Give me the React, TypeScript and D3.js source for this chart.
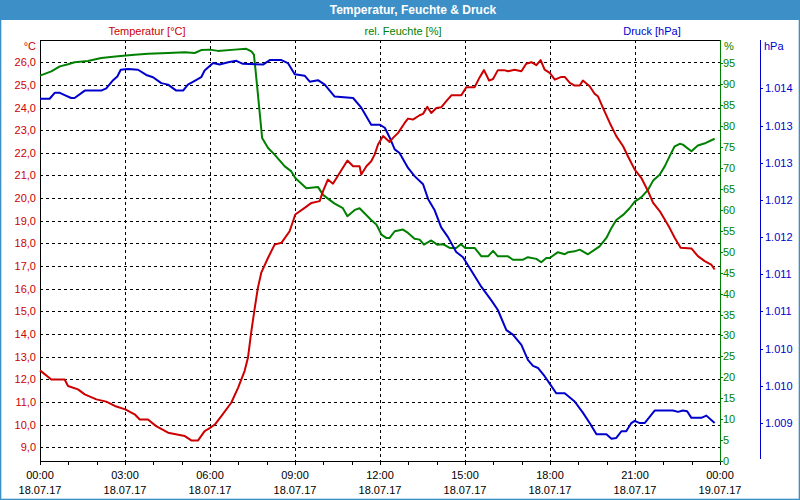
import * as d3 from "d3";

// hours since 18.07.17 00:00 and readings
const tempSeries: [number, number][] = [
  [0, 12.4], [0.4, 12.0], [0.87, 12.0], [0.99, 11.71], [1.34, 11.56], [1.58, 11.34], [1.99, 11.12],
  [2.34, 11.02], [2.64, 10.83], [3.01, 10.68], [3.34, 10.46], [3.52, 10.23], [3.81, 10.23], [4.1, 9.94],
  [4.52, 9.65], [5.11, 9.5], [5.34, 9.31], [5.58, 9.31], [5.81, 9.72], [5.99, 9.85], [6.17, 10.01],
  [6.4, 10.38], [6.75, 10.97], [6.99, 11.63], [7.22, 12.37], [7.34, 12.96], [7.46, 14.13], [7.58, 15.16],
  [7.69, 16.04], [7.81, 16.71], [8.05, 17.37], [8.28, 17.95], [8.52, 18.03], [8.81, 18.54], [9.01, 19.28],
  [9.34, 19.57], [9.58, 19.79], [9.87, 19.87], [9.99, 20.31], [10.16, 20.82], [10.34, 20.64], [10.58, 21.12],
  [10.85, 21.66], [11.05, 21.41], [11.28, 21.41], [11.34, 21.04], [11.52, 21.41], [11.69, 21.63],
  [11.81, 21.92], [11.93, 22.37], [12.11, 22.74], [12.34, 22.48], [12.46, 22.66], [12.64, 22.88],
  [12.87, 23.32], [12.99, 23.51], [13.16, 23.47], [13.4, 23.66], [13.52, 23.72], [13.67, 24.03],
  [13.81, 23.76], [13.99, 23.98], [14.16, 24.01], [14.34, 24.28], [14.52, 24.54], [14.87, 24.54],
  [15.05, 24.9], [15.34, 24.9], [15.52, 25.34], [15.67, 25.65], [15.85, 25.19], [15.99, 25.26],
  [16.16, 25.65], [16.38, 25.65], [16.52, 25.6], [16.75, 25.67], [16.99, 25.6], [17.16, 25.93],
  [17.34, 26.0], [17.52, 25.87], [17.67, 26.09], [17.81, 25.67], [17.99, 25.53], [18.17, 25.23],
  [18.4, 25.35], [18.52, 25.35], [18.7, 25.09], [18.87, 24.97], [19.05, 24.97], [19.16, 25.19],
  [19.4, 24.94], [19.58, 24.6], [19.69, 24.5], [19.87, 23.98], [20.11, 23.32], [20.34, 22.74],
  [20.58, 22.29], [20.75, 21.85], [20.99, 21.26], [21.22, 20.9], [21.46, 20.31], [21.64, 19.79],
  [21.87, 19.43], [22.05, 19.06], [22.22, 18.69], [22.4, 18.25], [22.61, 17.81], [22.99, 17.78],
  [23.22, 17.44], [23.46, 17.22], [23.69, 17.07], [23.81, 16.85],
];

const humSeries: [number, number][] = [
  [0, 92.1], [0.4, 93.1], [0.7, 94.3], [0.99, 94.8], [1.22, 95.3], [1.69, 95.6], [2.16, 96.3],
  [2.75, 96.7], [3.34, 97.1], [3.81, 97.3], [4.52, 97.5], [5.11, 97.7], [5.46, 97.5], [5.69, 98.2],
  [5.99, 98.3], [6.28, 98.0], [6.87, 98.3], [7.28, 98.5], [7.46, 97.9], [7.55, 97.1], [7.6, 93.9],
  [7.67, 89.1], [7.75, 83.5], [7.84, 77.2], [8.05, 74.8], [8.28, 73.2], [8.64, 70.4], [8.87, 69.2],
  [9.01, 67.6], [9.4, 65.2], [9.81, 65.5], [9.99, 63.6], [10.22, 62.4], [10.4, 61.5], [10.69, 60.4],
  [10.85, 58.5], [11.11, 60.0], [11.28, 60.4], [11.69, 57.6], [11.87, 56.5], [11.95, 55.5],
  [12.05, 54.1], [12.22, 53.3], [12.34, 53.3], [12.52, 54.9], [12.81, 55.3], [12.99, 54.5],
  [13.22, 53.1], [13.4, 52.9], [13.55, 51.7], [13.81, 52.7], [14.02, 51.7], [14.22, 51.8],
  [14.46, 50.9], [14.69, 50.9], [14.85, 51.8], [15.01, 50.9], [15.34, 50.9], [15.58, 48.9],
  [15.81, 48.9], [15.99, 50.2], [16.16, 48.9], [16.52, 48.9], [16.69, 48.1], [17.05, 48.1],
  [17.22, 48.7], [17.52, 48.3], [17.69, 47.5], [17.87, 48.5], [17.99, 48.5], [18.28, 49.9],
  [18.52, 49.4], [18.64, 49.9], [18.87, 50.1], [19.05, 50.5], [19.34, 49.4], [19.58, 50.5],
  [19.75, 51.3], [19.99, 53.3], [20.17, 55.7], [20.34, 57.6], [20.58, 58.8], [20.81, 60.4],
  [20.99, 62.0], [21.22, 63.0], [21.46, 64.8], [21.64, 67.0], [21.87, 68.4], [22.05, 70.4],
  [22.22, 72.8], [22.4, 75.2], [22.58, 75.8], [22.69, 75.6], [22.99, 74.0], [23.22, 75.4],
  [23.5, 76.0], [23.81, 77.0],
];

const pressSeries: [number, number][] = [
  [0, 1013.61], [0.34, 1013.61], [0.52, 1013.69], [0.7, 1013.69], [0.87, 1013.66], [1.1, 1013.62],
  [1.22, 1013.62], [1.58, 1013.72], [2.16, 1013.72], [2.34, 1013.75], [2.58, 1013.86], [2.73, 1013.91],
  [2.85, 1014.0], [3.11, 1014.01], [3.46, 1014.0], [3.75, 1013.93], [3.99, 1013.9], [4.28, 1013.82],
  [4.52, 1013.8], [4.81, 1013.72], [5.05, 1013.72], [5.22, 1013.8], [5.46, 1013.85], [5.69, 1013.9],
  [5.81, 1013.99], [5.99, 1014.05], [6.11, 1014.09], [6.34, 1014.07], [6.64, 1014.1], [6.93, 1014.12],
  [7.16, 1014.08], [7.87, 1014.07], [8.11, 1014.13], [8.52, 1014.13], [8.75, 1014.09], [8.99, 1013.94],
  [9.34, 1013.92], [9.52, 1013.84], [9.81, 1013.86], [10.05, 1013.8], [10.4, 1013.64], [11.05, 1013.62],
  [11.34, 1013.49], [11.69, 1013.26], [12.0, 1013.26], [12.17, 1013.22], [12.34, 1013.09],
  [12.52, 1012.93], [12.69, 1012.88], [12.99, 1012.68], [13.22, 1012.57], [13.52, 1012.46],
  [13.7, 1012.26], [13.93, 1012.11], [14.16, 1011.88], [14.4, 1011.75], [14.69, 1011.55],
  [14.93, 1011.48], [15.22, 1011.3], [15.58, 1011.08], [15.93, 1010.9], [16.16, 1010.77],
  [16.46, 1010.5], [16.69, 1010.44], [16.99, 1010.3], [17.22, 1010.1], [17.4, 1010.02],
  [17.58, 1009.99], [17.81, 1009.88], [17.99, 1009.78], [18.22, 1009.65], [18.52, 1009.65],
  [18.87, 1009.54], [19.16, 1009.39], [19.4, 1009.25], [19.64, 1009.1], [19.99, 1009.1],
  [20.17, 1009.04], [20.34, 1009.05], [20.52, 1009.14], [20.69, 1009.14], [20.87, 1009.25],
  [20.99, 1009.28], [21.17, 1009.25], [21.34, 1009.25], [21.7, 1009.42], [22.34, 1009.42],
  [22.52, 1009.4], [22.69, 1009.42], [22.84, 1009.41], [22.99, 1009.32], [23.34, 1009.32],
  [23.52, 1009.35], [23.81, 1009.25],
];

const tempTicks = [9, 10, 11, 12, 13, 14, 15, 16, 17, 18, 19, 20, 21, 22, 23, 24, 25, 26];
const humTicks = [0, 5, 10, 15, 20, 25, 30, 35, 40, 45, 50, 55, 60, 65, 70, 75, 80, 85, 90, 95];
const pressTicks = [1009.25, 1009.75, 1010.25, 1010.75, 1011.25, 1011.75, 1012.25, 1012.75, 1013.25, 1013.75];
const hourTicks = [0, 3, 6, 9, 12, 15, 18, 21, 24];
const timeLabels = ["00:00", "03:00", "06:00", "09:00", "12:00", "15:00", "18:00", "21:00", "00:00"];
const dateLabels = ["18.07.17", "18.07.17", "18.07.17", "18.07.17", "18.07.17", "18.07.17", "18.07.17", "18.07.17", "19.07.17"];

const RED = "#cc0000";
const GREEN = "#008000";
const BLUE = "#0000cc";
const FRAME = "#3c8fc7";
const FONT = "'Liberation Sans', Arial, sans-serif";

export default function App() {
  const W = 800, H = 500;
  const left = 40, right = 720, top = 40, bottom = 461;

  const x = d3.scaleLinear().domain([0, 24]).range([left, right]);
  const yT = d3.scaleLinear().domain([8.4, 26.98]).range([bottom, top]);
  const yH = d3.scaleLinear().domain([0, 100.6]).range([bottom, top]);
  const yP = d3.scaleLinear().domain([1008.74, 1014.4]).range([bottom, top]);

  const lineT = d3.line<[number, number]>().x(d => x(d[0])).y(d => yT(d[1]));
  const lineH = d3.line<[number, number]>().x(d => x(d[0])).y(d => yH(d[1]));
  const lineP = d3.line<[number, number]>().x(d => x(d[0])).y(d => yP(d[1]));

  const fmtT = (v: number) => v.toFixed(1).replace(".", ",");
  const fmtP = (v: number) => {
    const r = Math.round(v);
    return `${Math.floor(r / 1000)}.${String(r % 1000).padStart(3, "0")}`;
  };
  const minorHours = d3.range(0, 25);

  return (
    <svg width={W} height={H} style={{ position: "absolute", left: 0, top: 0 }} fontFamily={FONT} fontSize={11}>
      <rect x={0} y={0} width={W} height={H} fill="#ffffff" />
      <rect x={0.5} y={0.5} width={W - 1} height={H - 1} fill="none" stroke={FRAME} strokeWidth={1} />
      <rect x={1} y={1} width={W - 2} height={H - 2} fill="none" stroke={FRAME} strokeWidth={1} opacity={0.6} />
      <rect x={0} y={0} width={W} height={20} fill={FRAME} />
      <text x={413} y={14} textAnchor="middle" fill="#ffffff" fontWeight="bold" fontSize={12}>
        Temperatur, Feuchte &amp; Druck
      </text>

      {/* series titles */}
      <text x={147} y={35} textAnchor="middle" fill={RED}>Temperatur [°C]</text>
      <text x={403} y={35} textAnchor="middle" fill={GREEN}>rel. Feuchte [%]</text>
      <text x={652} y={35} textAnchor="middle" fill={BLUE}>Druck [hPa]</text>

      {/* grid */}
      <g stroke="#000" strokeWidth={1} strokeDasharray="3,3" shapeRendering="crispEdges">
        {tempTicks.map(t => (
          <line key={"h" + t} x1={left} x2={right} y1={Math.round(yT(t)) + 0.5} y2={Math.round(yT(t)) + 0.5} />
        ))}
        {hourTicks.slice(1, -1).map(h => (
          <line key={"v" + h} x1={Math.round(x(h)) + 0.5} x2={Math.round(x(h)) + 0.5} y1={top} y2={bottom} />
        ))}
      </g>

      {/* frame */}
      <g stroke="#000" strokeWidth={1} shapeRendering="crispEdges">
        <line x1={left + 0.5} x2={left + 0.5} y1={top} y2={bottom + 1} />
        <line x1={left} x2={right} y1={top + 0.5} y2={top + 0.5} />
        <line x1={left} x2={right} y1={bottom + 0.5} y2={bottom + 0.5} />
        {minorHours.map(h => (
          <line key={"m" + h} x1={Math.round(x(h)) + 0.5} x2={Math.round(x(h)) + 0.5} y1={bottom} y2={bottom + 4} />
        ))}
      </g>

      {/* series */}
      <g fill="none" strokeWidth={2} strokeLinejoin="round">
        <path d={lineH(humSeries) ?? ""} stroke={GREEN} />
        <path d={lineP(pressSeries) ?? ""} stroke={BLUE} />
        <path d={lineT(tempSeries) ?? ""} stroke={RED} />
      </g>

      {/* left temperature axis */}
      <g fill={RED} textAnchor="end">
        {tempTicks.map(t => (
          <text key={"tl" + t} x={36} y={yT(t) + 4}>{fmtT(t)}</text>
        ))}
        <text x={36} y={50}>°C</text>
      </g>

      {/* humidity axis */}
      <g shapeRendering="crispEdges">
        <line x1={right + 0.5} x2={right + 0.5} y1={top} y2={bottom + 1} stroke={GREEN} />
        {humTicks.map(t => (
          <line key={"ht" + t} x1={right} x2={right + 3} y1={Math.round(yH(t)) + 0.5} y2={Math.round(yH(t)) + 0.5} stroke={GREEN} />
        ))}
      </g>
      <g fill={GREEN}>
        {humTicks.map(t => (
          <text key={"hl" + t} x={723} y={yH(t) + 4}>{t}</text>
        ))}
        <text x={724} y={50}>%</text>
      </g>

      {/* pressure axis */}
      <g shapeRendering="crispEdges">
        <line x1={760.5} x2={760.5} y1={top} y2={bottom - 2} stroke={BLUE} />
        {pressTicks.map(t => (
          <line key={"pt" + t} x1={760} x2={763} y1={Math.round(yP(t)) + 0.5} y2={Math.round(yP(t)) + 0.5} stroke={BLUE} />
        ))}
      </g>
      <g fill={BLUE}>
        {pressTicks.map(t => (
          <text key={"pl" + t} x={765} y={yP(t) + 4}>{fmtP(t)}</text>
        ))}
        <text x={764} y={50}>hPa</text>
      </g>

      {/* time axis labels */}
      <g fill="#000" textAnchor="middle">
        {hourTicks.map((h, i) => (
          <g key={"xl" + i}>
            <text x={x(h)} y={479}>{timeLabels[i]}</text>
            <text x={x(h)} y={494}>{dateLabels[i]}</text>
          </g>
        ))}
      </g>
    </svg>
  );
}
